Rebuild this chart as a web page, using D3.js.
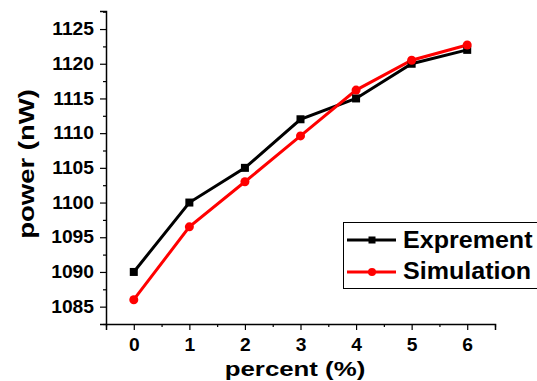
<!DOCTYPE html>
<html>
<head>
<meta charset="utf-8">
<script src="https://cdn.jsdelivr.net/npm/d3@7"></script>
<style>
  body { margin: 0; background: #fff; }
  text { font-family: "Liberation Sans", Arial, sans-serif; font-weight: bold; }
</style>
</head>
<body>
<div id="chart"></div>
<script>
// values
const percent = [0, 1, 2, 3, 4, 5, 6];
const expPower = [1090, 1100, 1105, 1112, 1115, 1120, 1122];
const simPower = [1086, 1096.5, 1103, 1109.6, 1116.2, 1120.5, 1122.7];
const xTicks = [0, 1, 2, 3, 4, 5, 6];
const yTicks = [1085, 1090, 1095, 1100, 1105, 1110, 1115, 1120, 1125];
const seriesNames = ["Exprement", "Simulation"];

const width = 537, height = 381;
const plotLeft = 106, plotRight = 495, plotTop = 11, plotBottom = 324;
const stretch = 1.1; // the original glyphs are a little wider than Liberation's

const svg = d3.select("#chart").append("svg")
    .attr("width", width)
    .attr("height", height);

const x = d3.scaleLinear().domain([-0.5, 6.5]).range([plotLeft, plotRight]);
const y = d3.scaleLinear().domain([1082.5, 1127.6]).range([plotBottom, plotTop]);

// axes (major + minor ticks outside)
let xMinor = d3.range(-0.5, 6.51, 0.5).filter(v => !Number.isInteger(v));
let yMinor = d3.range(1082.5, 1127.6, 2.5).filter(v => v % 5 !== 0);

let xAxis = svg.append("g").attr("transform", `translate(0,${plotBottom})`);
xAxis.call(d3.axisBottom(x).tickValues(xTicks).tickSize(6).tickFormat(d3.format("d")));
xAxis.append("g").call(d3.axisBottom(x).tickValues(xMinor).tickSize(3).tickFormat(""))
    .select(".domain").remove();
xAxis.selectAll(".tick text")
    .attr("y", 27).attr("dy", 0)
    .attr("transform", `scale(${stretch},1)`);

let yAxis = svg.append("g").attr("transform", `translate(${plotLeft},0)`);
yAxis.call(d3.axisLeft(y).tickValues(yTicks).tickSize(6).tickFormat(d3.format("d")));
yAxis.append("g").call(d3.axisLeft(y).tickValues(yMinor).tickSize(3).tickFormat(""))
    .select(".domain").remove();
yAxis.selectAll(".tick text")
    .attr("x", -12 / stretch)
    .attr("transform", `scale(${stretch},1)`);

svg.selectAll(".domain").attr("stroke", "#000").attr("stroke-width", 1.5);
svg.selectAll(".tick line").attr("stroke", "#000").attr("stroke-width", 1.2);
svg.selectAll(".tick text")
    .attr("font-size", 17.5)
    .attr("fill", "#000")
    .style("font-family", "'Liberation Sans', Arial, sans-serif")
    .style("font-weight", "bold");

// axis titles
svg.append("text")
    .attr("transform", "translate(295,376) scale(1.23,1)")
    .attr("text-anchor", "middle")
    .attr("font-size", 21)
    .text("percent (%)");

svg.append("text")
    .attr("transform", "translate(34,164) rotate(-90) scale(1.25,1)")
    .attr("text-anchor", "middle")
    .attr("font-size", 22)
    .text("power (nW)");

// lines
let line = d3.line().x((d, i) => x(percent[i])).y(d => y(d));

svg.append("path").datum(expPower)
    .attr("d", line).attr("fill", "none")
    .attr("stroke", "#000").attr("stroke-width", 3);
svg.append("path").datum(simPower)
    .attr("d", line).attr("fill", "none")
    .attr("stroke", "#ff0000").attr("stroke-width", 3);

svg.selectAll(".sq").data(expPower).enter().append("rect")
    .attr("x", (d, i) => x(percent[i]) - 4)
    .attr("y", d => y(d) - 4)
    .attr("width", 8).attr("height", 8)
    .attr("fill", "#000");

svg.selectAll(".dot").data(simPower).enter().append("circle")
    .attr("cx", (d, i) => x(percent[i]))
    .attr("cy", d => y(d))
    .attr("r", 4.5)
    .attr("fill", "#ff0000");

// legend
let lg = svg.append("g");
lg.append("rect")
    .attr("x", 343.5).attr("y", 222.5)
    .attr("width", 200).attr("height", 66)
    .attr("fill", "#fff").attr("stroke", "#000").attr("stroke-width", 1);

let rows = [
    {name: seriesNames[0], color: "#000", y: 240, base: 248, shape: "square"},
    {name: seriesNames[1], color: "#ff0000", y: 272, base: 279, shape: "circle"}
];
rows.forEach(r => {
    lg.append("line")
        .attr("x1", 347).attr("x2", 396)
        .attr("y1", r.y).attr("y2", r.y)
        .attr("stroke", r.color).attr("stroke-width", 3);
    if (r.shape === "square") {
        lg.append("rect").attr("x", 368.5).attr("y", r.y - 3.5)
            .attr("width", 7).attr("height", 7).attr("fill", r.color);
    } else {
        lg.append("circle").attr("cx", 372).attr("cy", r.y).attr("r", 4).attr("fill", r.color);
    }
    lg.append("text")
        .attr("transform", `translate(403,${r.base}) scale(1.09,1)`)
        .attr("font-size", 23)
        .attr("fill", "#000")
        .text(r.name);
});
</script>
</body>
</html>
